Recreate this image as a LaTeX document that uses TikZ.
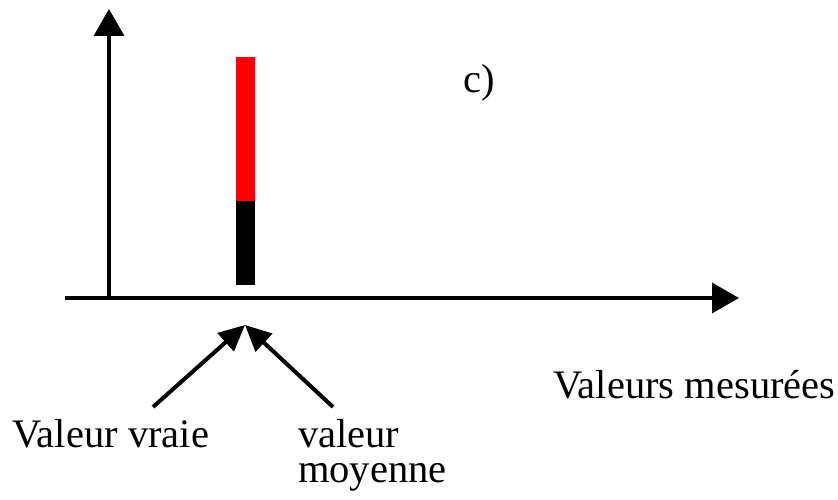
\documentclass[tikz,border=0pt]{standalone}
\usepackage{fontspec}
\setmainfont{Liberation Serif}
\usetikzlibrary{arrows.meta}

\begin{document}
\begin{tikzpicture}[x=1pt, y=-1pt,
		axis/.style={line width=3.5pt, -{Triangle[length=27pt, width=30pt]}},
		pointer/.style={line width=4pt, -{Triangle[length=26pt, width=24pt]}},
		label/.style={font=\fontsize{40.5}{35}\selectfont, inner sep=0pt, anchor=base west}
		]
		\useasboundingbox (0, 0) rectangle (838, 500);
		
		% Draw axes
		\coordinate (origin) at (109, 298);
		\coordinate (xstart) at (65, 298);
		\coordinate (xend) at (739, 298);
		\coordinate (yend) at (109, 9);
		\draw[axis] (xstart) -- (xend);
		\draw[axis] (origin) -- (yend);
		
		% Draw bar
		\fill[red] (236, 57) rectangle (255, 201);
		\fill[black] (236, 201) rectangle (255, 285);
		
		% Add labels
		\node[label] (cpart) at (463, 93) {c)};
		\node[label] (mesures) at (553, 398) {Valeurs mesurées};
		\node[label] (vraie) at (12, 447) {Valeur vraie};
		\node[label, align=left] (moy) at (298, 482) {valeur\\moyenne};
		
		% Draw pointers
		\coordinate (target) at (245, 325);
		\coordinate (vraietail) at (153, 407);
		\coordinate (moytail) at (333, 407);
		\draw[pointer] (vraietail) -- (target);
		\draw[pointer] (moytail) -- (target);
		
	\end{tikzpicture}
\end{document}
